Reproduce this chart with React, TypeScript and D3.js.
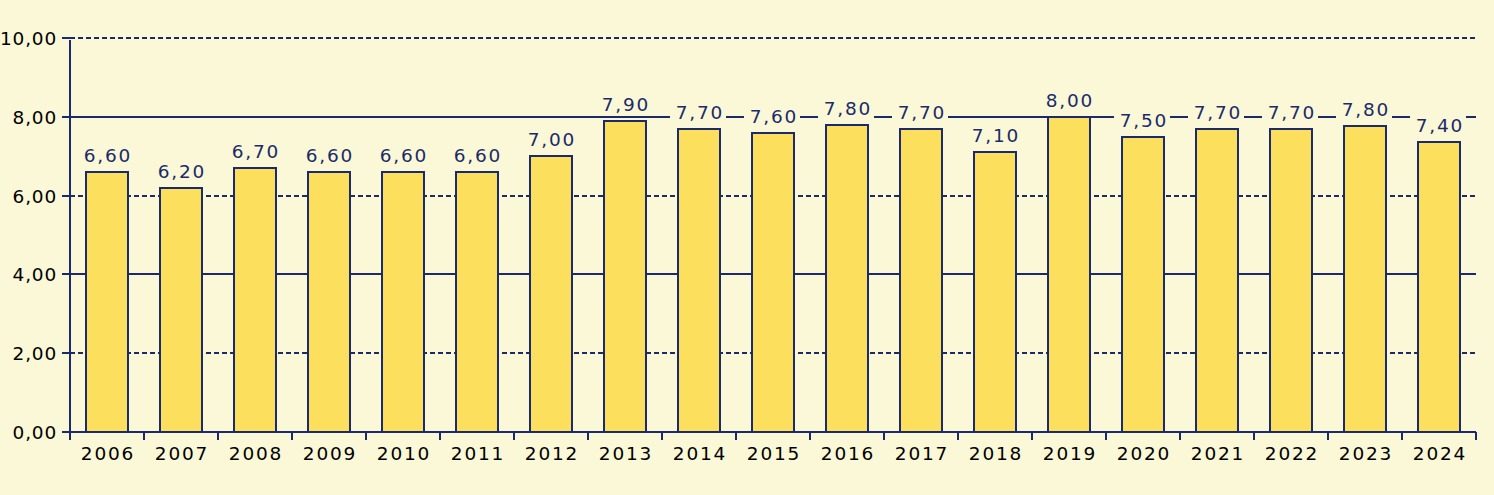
import React from "react";
import * as d3 from "d3";

const years = ["2006","2007","2008","2009","2010","2011","2012","2013","2014","2015","2016","2017","2018","2019","2020","2021","2022","2023","2024"];
const values = [6.6, 6.2, 6.7, 6.6, 6.6, 6.6, 7.0, 7.9, 7.7, 7.6, 7.8, 7.7, 7.1, 8.0, 7.5, 7.7, 7.7, 7.76, 7.35];
const yTicks = [0, 2, 4, 6, 8, 10];
const solidTicks = [4, 8];

const W = 1494, H = 495;
const BG = "#FAF8D6";
const BAR = "#FCDF5C";
const NAVY = "#1B2A6B";
const FONT = "'DejaVu Sans', sans-serif";

const fmt = (v: number) => (Math.round(v * 10) / 10).toFixed(2).replace(".", ",");

export default function App() {
  const left = 70, right = 1476, top = 38, bottom = 432;
  const x = d3.scaleBand<string>().domain(years).range([left, right]).paddingInner(0.4324).paddingOuter(0.2162);
  const y = d3.scaleLinear().domain([0, 10]).range([bottom, top]);
  const yr = (v: number) => Math.round(y(v));
  const step = x.step();
  const halfGap = (step * x.paddingInner()) / 2;
  const bounds = years.map((d) => Math.round((x(d) as number) - halfGap)).concat([right]);

  return (
    <svg width={W} height={H} style={{ position: "absolute", left: 0, top: 0, background: BG }}>
      <rect x={0} y={0} width={W} height={H} fill={BG} />
      {yTicks.filter((t) => t > 0).map((t) => (
        <line key={"g" + t} x1={left - 8} x2={right} y1={yr(t)} y2={yr(t)} stroke={NAVY} strokeWidth={2}
          strokeDasharray={solidTicks.includes(t) ? undefined : "5,3"} />
      ))}
      {years.map((d, i) => {
        const bx = Math.round(x(d) as number);
        return (
          <rect key={"b" + d} x={bx} y={yr(values[i])} width={Math.round(x.bandwidth())} height={bottom - yr(values[i])}
            fill={BAR} stroke={NAVY} strokeWidth={2} />
        );
      })}
      {years.map((d, i) => {
        const cx = (x(d) as number) + x.bandwidth() / 2;
        const by = yr(values[i]) - 10;
        const label = fmt(values[i]);
        const tw = 48;
        return (
          <g key={"l" + d}>
            <rect x={cx - tw / 2 - 5} y={by - 16} width={tw + 8} height={21} fill={BG} />
            <text x={cx + 1} y={by} textAnchor="middle" fill={NAVY} fontFamily={FONT} fontSize={18.5} letterSpacing={1.8}>{label}</text>
          </g>
        );
      })}
      <line x1={left} x2={left} y1={top + 2} y2={bottom + 8} stroke={NAVY} strokeWidth={2} />
      <line x1={left - 8} x2={right} y1={bottom} y2={bottom} stroke={NAVY} strokeWidth={2} />
      {yTicks.map((t) => (
        <g key={"t" + t}>
          <line x1={left - 8} x2={left} y1={yr(t)} y2={yr(t)} stroke={NAVY} strokeWidth={2} />
          <text x={57} y={yr(t) + 6.5} textAnchor="end" fill="#000" fontFamily={FONT} fontSize={18.5} letterSpacing={0.8}>{fmt(t)}</text>
        </g>
      ))}
      {bounds.map((bx, i) => (
        <line key={"xt" + i} x1={bx} x2={bx} y1={bottom} y2={bottom + 8} stroke={NAVY} strokeWidth={2} />
      ))}
      {years.map((d) => (
        <text key={"xl" + d} x={(x(d) as number) + x.bandwidth() / 2 + 1} y={460} textAnchor="middle" fill="#000"
          fontFamily={FONT} fontSize={18.5} letterSpacing={1.8}>{d}</text>
      ))}
    </svg>
  );
}
